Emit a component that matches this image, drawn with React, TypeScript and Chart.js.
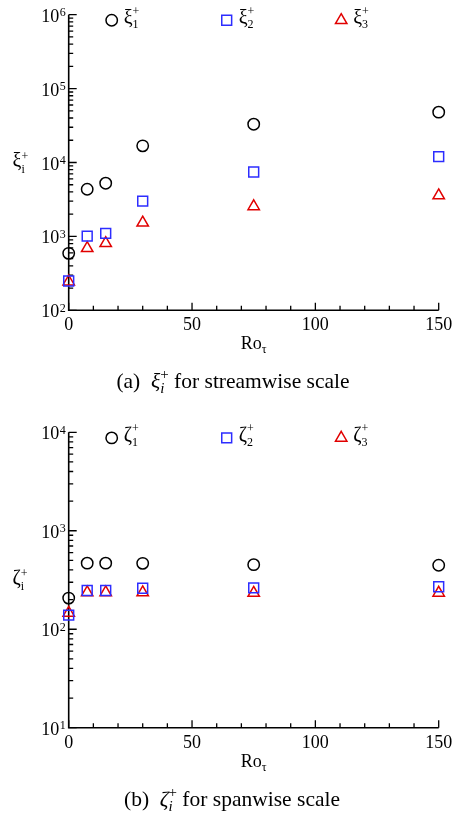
import React, { useEffect, useRef } from 'react';
import { Chart, registerables } from 'chart.js';
Chart.register(...registerables);

// ---- data ----
const roTau = [0, 7.5, 15, 30, 75, 150];
const xi1 = [590, 4350, 5250, 16800, 33000, 48000];
const xi2 = [249, 1010, 1100, 3000, 7450, 12000];
const xi3 = [244, 690, 807, 1530, 2550, 3570];
const zeta1 = [207, 469, 469, 467, 453, 447];
const zeta2 = [139, 247, 247, 261, 263, 270];
const zeta3 = [146, 236, 236, 236, 233, 234];

const xMajorTicks = [0, 50, 100, 150];
const xMinorTicks = [10, 20, 30, 40, 60, 70, 80, 90, 110, 120, 130, 140];
const xiExponents = [2, 3, 4, 5, 6];
const zetaExponents = [1, 2, 3, 4];
const minorMultipliers = [2, 3, 4, 5, 6, 7, 8, 9];
const seriesIndex = ['1', '2', '3'];

const SERIF = '"Liberation Serif", "Times New Roman", serif';
const BLACK = '#000000';
const BLUE = 'rgb(45,45,255)';
const RED = 'rgb(225,0,0)';
const STYLES = [
  { pointStyle: 'circle', color: BLACK, radius: 5.7 },
  { pointStyle: 'rect', color: BLUE, radius: 7 },
  { pointStyle: 'triangle', color: RED, radius: 6.6 },
];

type Seg = { t: string; f: string; dy?: number; stack?: boolean };

function measureRun(ctx: CanvasRenderingContext2D, segs: Seg[]) {
  let w = 0, last = 0, lastStart = 0;
  for (const s of segs) {
    ctx.font = s.f;
    const sw = ctx.measureText(s.t).width;
    if (s.stack) {
      const nw = Math.max(last, sw);
      w = lastStart + nw;
      last = nw;
    } else {
      lastStart = w;
      w += sw;
      last = sw;
    }
  }
  return w;
}

function drawRun(ctx: CanvasRenderingContext2D, segs: Seg[], x: number, y: number) {
  let cx = x, lastStart = x, last = 0;
  ctx.textAlign = 'left';
  ctx.textBaseline = 'alphabetic';
  for (const s of segs) {
    ctx.font = s.f;
    const sw = ctx.measureText(s.t).width;
    if (s.stack) {
      ctx.fillText(s.t, lastStart, y + (s.dy || 0));
      const nw = Math.max(last, sw);
      cx = lastStart + nw;
      last = nw;
    } else {
      ctx.fillText(s.t, cx, y + (s.dy || 0));
      lastStart = cx;
      cx += sw;
      last = sw;
    }
  }
}

function drawMarker(ctx: CanvasRenderingContext2D, style: string, x: number, y: number, r: number, color: string) {
  ctx.save();
  ctx.strokeStyle = color;
  ctx.lineWidth = 1.5;
  ctx.beginPath();
  if (style === 'circle') {
    ctx.arc(x, y, r, 0, Math.PI * 2);
  } else if (style === 'rect') {
    const s = Math.SQRT1_2 * r;
    ctx.rect(x - s, y - s, 2 * s, 2 * s);
  } else {
    let rad = 0;
    ctx.moveTo(x + Math.sin(rad) * r, y - Math.cos(rad) * r);
    rad += (2 * Math.PI) / 3;
    ctx.lineTo(x + Math.sin(rad) * r, y - Math.cos(rad) * r);
    rad += (2 * Math.PI) / 3;
    ctx.lineTo(x + Math.sin(rad) * r, y - Math.cos(rad) * r);
    ctx.closePath();
  }
  ctx.stroke();
  ctx.restore();
}

type PanelProps = {
  height: number;
  series: number[][];
  yMin: number;
  yMax: number;
  exponents: number[];
  symbol: string;
  captionLabel: string;
  captionText: string;
  captionCenter: number;
  captionOffset: number;
  padding: { left: number; right: number; top: number; bottom: number };
};

function Panel(props: PanelProps) {
  const ref = useRef<HTMLCanvasElement | null>(null);

  useEffect(() => {
    const canvas = ref.current;
    if (!canvas) return;
    const { series, yMin, yMax, exponents, symbol, captionLabel, captionText, captionCenter, captionOffset, padding } = props;

    const axesPlugin = {
      id: 'customAxes',
      beforeDatasetsDraw(chart: any) {
        const { ctx, chartArea: a } = chart;
        const xs = chart.scales.x;
        const ys = chart.scales.y;
        ctx.save();
        ctx.strokeStyle = BLACK;
        ctx.lineWidth = 1.6;
        ctx.beginPath();
        ctx.moveTo(a.left, a.top);
        ctx.lineTo(a.left, a.bottom);
        ctx.lineTo(a.right, a.bottom);
        ctx.stroke();
        ctx.lineWidth = 1.3;
        ctx.beginPath();
        const maxE = Math.max(...exponents);
        for (const e of exponents) {
          const py = ys.getPixelForValue(Math.pow(10, e));
          ctx.moveTo(a.left, py);
          ctx.lineTo(a.left + 8, py);
          if (e < maxE) {
            for (const m of minorMultipliers) {
              const pm = ys.getPixelForValue(m * Math.pow(10, e));
              ctx.moveTo(a.left, pm);
              ctx.lineTo(a.left + 4.5, pm);
            }
          }
        }
        for (const t of xMajorTicks) {
          const px = xs.getPixelForValue(t);
          ctx.moveTo(px, a.bottom);
          ctx.lineTo(px, a.bottom - 7.5);
        }
        for (const t of xMinorTicks) {
          const px = xs.getPixelForValue(t);
          ctx.moveTo(px, a.bottom);
          ctx.lineTo(px, a.bottom - 4.5);
        }
        ctx.stroke();
        ctx.restore();
      },
      afterDraw(chart: any) {
        const { ctx, chartArea: a } = chart;
        const xs = chart.scales.x;
        const ys = chart.scales.y;
        ctx.save();
        ctx.fillStyle = BLACK;
        // y tick labels
        for (const e of exponents) {
          const py = ys.getPixelForValue(Math.pow(10, e));
          ctx.font = `18px ${SERIF}`;
          ctx.textAlign = 'right';
          ctx.textBaseline = 'alphabetic';
          ctx.fillText('10', a.left - 9.5, py + 7);
          ctx.font = `12px ${SERIF}`;
          ctx.textAlign = 'left';
          ctx.fillText(String(e), a.left - 9, py + 1.5);
        }
        // x tick labels
        ctx.font = `18px ${SERIF}`;
        ctx.textAlign = 'center';
        for (const t of xMajorTicks) {
          ctx.fillText(String(t), xs.getPixelForValue(t), a.bottom + 20);
        }
        // x title
        const xt: Seg[] = [
          { t: 'Ro', f: `18px ${SERIF}` },
          { t: 'τ', f: `12px ${SERIF}`, dy: 4 },
        ];
        const xw = measureRun(ctx, xt);
        drawRun(ctx, xt, (a.left + a.right) / 2 - xw / 2, a.bottom + 39);
        // y title
        const yc = (a.top + a.bottom) / 2;
        drawRun(ctx, [
          { t: symbol, f: `20px ${SERIF}` },
          { t: 'i', f: `12px ${SERIF}`, dy: 6 },
          { t: '+', f: `12px ${SERIF}`, dy: -7, stack: true },
        ], 12.5, yc + 4);
        // legend
        const legendOffsets = [43, 158, 272.5];
        const ly = a.top + 5.6;
        STYLES.forEach((st, i) => {
          const mx = a.left + legendOffsets[i];
          drawMarker(ctx, st.pointStyle, mx, ly, st.radius, st.color);
          ctx.fillStyle = BLACK;
          drawRun(ctx, [
            { t: symbol, f: `20px ${SERIF}` },
            { t: seriesIndex[i], f: `12px ${SERIF}`, dy: 4.5 },
            { t: '+', f: `12px ${SERIF}`, dy: -9, stack: true },
          ], mx + 12, ly + 3.5);
        });
        // caption
        const cap: Seg[] = [
          { t: captionLabel + '  ', f: `21.5px ${SERIF}` },
          { t: symbol, f: `italic 21.5px ${SERIF}` },
          { t: 'i', f: `italic 15px ${SERIF}`, dy: 5 },
          { t: '+', f: `15px ${SERIF}`, dy: -9, stack: true },
          { t: ' ' + captionText, f: `21.5px ${SERIF}` },
        ];
        const cw = measureRun(ctx, cap);
        drawRun(ctx, cap, captionCenter - cw / 2, a.bottom + captionOffset);
        ctx.restore();
      },
    };

    const chart = new Chart(canvas, {
      type: 'scatter',
      data: {
        datasets: series.map((vals, i) => ({
          label: symbol + seriesIndex[i],
          data: roTau.map((x, k) => ({ x, y: vals[k] })),
          pointStyle: STYLES[i].pointStyle as any,
          pointRadius: STYLES[i].radius,
          pointBorderWidth: 1.5,
          pointBorderColor: STYLES[i].color,
          pointBackgroundColor: 'rgba(0,0,0,0)',
          borderColor: STYLES[i].color,
          backgroundColor: 'rgba(0,0,0,0)',
          showLine: false,
          clip: false as any,
        })),
      },
      options: {
        responsive: false,
        animation: false,
        devicePixelRatio: 1,
        layout: { padding },
        plugins: {
          legend: { display: false },
          tooltip: { enabled: false },
          title: { display: false },
        },
        events: [],
        scales: {
          x: { type: 'linear', min: 0, max: 150, display: false },
          y: { type: 'logarithmic', min: yMin, max: yMax, display: false },
        },
      },
      plugins: [axesPlugin],
    });
    return () => chart.destroy();
  }, []);

  return <canvas ref={ref} width={458} height={props.height} style={{ display: 'block', width: 458, height: props.height }} />;
}

export default function App() {
  return (
    <div style={{ position: 'absolute', left: 0, top: 0, width: 458, height: 814, background: '#ffffff' }}>
      <Panel
        height={400}
        series={[xi1, xi2, xi3]}
        yMin={100}
        yMax={1000000}
        exponents={xiExponents}
        symbol="ξ"
        captionLabel="(a)"
        captionText="for streamwise scale"
        captionCenter={233}
        captionOffset={78}
        padding={{ left: 68.7, right: 19.3, top: 14.7, bottom: 89.7 }}
      />
      <Panel
        height={414}
        series={[zeta1, zeta2, zeta3]}
        yMin={10}
        yMax={10000}
        exponents={zetaExponents}
        symbol="ζ"
        captionLabel="(b)"
        captionText="for spanwise scale"
        captionCenter={232}
        captionOffset={78}
        padding={{ left: 68.7, right: 19.3, top: 32.3, bottom: 86.3 }}
      />
    </div>
  );
}
